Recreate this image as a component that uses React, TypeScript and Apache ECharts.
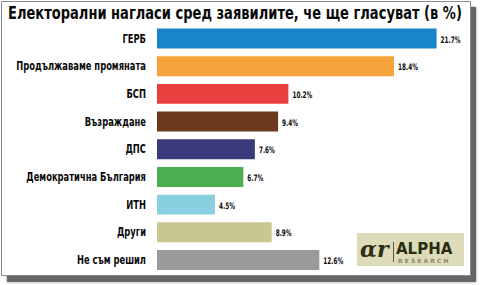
import React, { useEffect, useRef } from "react";
import * as echarts from "echarts";

const categories = [
  "ГЕРБ",
  "Продължаваме промяната",
  "БСП",
  "Възраждане",
  "ДПС",
  "Демократична България",
  "ИТН",
  "Други",
  "Не съм решил",
];
const values = [21.7, 18.4, 10.2, 9.4, 7.6, 6.7, 4.5, 8.9, 12.6];
const colors = [
  "#1a84c9",
  "#f5a33a",
  "#e63f3e",
  "#6b3a1e",
  "#3b3a7c",
  "#4bae50",
  "#88cfe0",
  "#c9c690",
  "#9a9a9a",
];
const titleText = "Електорални нагласи сред заявилите, че ще гласуват (в %)";

const FONT = "'DejaVu Sans', Arial, sans-serif";

function measure(text: string, font: string): number {
  const c = document.createElement("canvas");
  const ctx = c.getContext("2d");
  if (!ctx) return text.length * 8;
  ctx.font = font;
  return ctx.measureText(text).width;
}

export default function App() {
  const ref = useRef<HTMLDivElement>(null);
  useEffect(() => {
    if (!ref.current) return;
    const chart = echarts.init(ref.current, undefined, { renderer: "svg" });

    const titleSize = 18;
    const titleW = measure(titleText, `bold ${titleSize}px ${FONT}`);
    const titleScale = 454 / titleW;

    const labelSize = 11.5;
    const labelW = measure("Продължаваме промяната", `bold ${labelSize}px ${FONT}`);
    const labelScale = 130 / labelW;

    const valSize = 9;
    const valW = measure("21.7%", `bold ${valSize}px ${FONT}`);
    const valScale = 20 / valW;

    chart.setOption({
      animation: false,
      backgroundColor: "#ffffff",
      graphic: [
        {
          type: "rect",
          z: -10,
          shape: { x: 7, y: 7, width: 469, height: 275 },
          style: { fill: "#666666", shadowBlur: 3, shadowColor: "rgba(0,0,0,0.4)" },
          silent: true,
        },
        {
          type: "rect",
          z: -9,
          shape: { x: 1.5, y: 1.5, width: 469, height: 274 },
          style: { fill: "#ffffff", stroke: "#8a8a8a", lineWidth: 1 },
          silent: true,
        },
        {
          type: "text",
          x: 8,
          y: 4,
          scaleX: titleScale,
          style: {
            text: titleText,
            fontFamily: FONT,
            fontWeight: "bold",
            fontSize: titleSize,
            fill: "#0a0a0a",
          },
        },
        {
          type: "group",
          x: 357,
          y: 233,
          children: [
            {
              type: "rect",
              shape: { x: 0, y: 0, width: 107, height: 33 },
              style: { fill: "#dedbb8" },
            },
            {
              type: "text",
              x: 3,
              y: 5,
              style: {
                text: "ɑr",
                fontFamily: "'DejaVu Serif', serif",
                fontWeight: "bold",
                fontStyle: "italic",
                fontSize: 22,
                fill: "#2a2e14",
              },
            },
            {
              type: "rect",
              shape: { x: 36, y: 9, width: 1, height: 20 },
              style: { fill: "#55583a" },
            },
            {
              type: "text",
              x: 39,
              y: 8,
              style: {
                text: "ALPHA",
                fontFamily: "'DejaVu Sans', sans-serif",
                fontWeight: "bold",
                fontSize: 15,
                fill: "#2a2e14",
              },
            },
            {
              type: "text",
              x: 41,
              y: 24,
              style: {
                text: "R E S E A R C H",
                fontFamily: "'DejaVu Sans', sans-serif",
                fontWeight: "bold",
                fontSize: 6,
                fill: "#8a8a6a",
              },
            },
          ],
        },
      ],
      grid: { left: 157, right: 54.6, top: 24.7, bottom: 11.2 },
      xAxis: {
        type: "value",
        min: 0,
        max: 22,
        show: false,
      },
      yAxis: {
        type: "category",
        inverse: true,
        data: categories,
        axisLine: { show: false },
        axisTick: { show: false },
        splitLine: { show: false },
        axisLabel: { show: false },
      },
      series: [
        {
          type: "bar",
          data: values.map((v, i) => ({ value: v, itemStyle: { color: colors[i] } })),
          barCategoryGap: "28%",
        },
        {
          type: "custom",
          silent: true,
          data: categories.map((c, i) => [0, i, values[i]]),
          encode: { x: 0, y: 1 },
          renderItem: (params: any, api: any) => {
            const idx = api.value(1);
            const v = api.value(2);
            const left = api.coord([0, idx]);
            const right = api.coord([v, idx]);
            return {
              type: "group",
              children: [
                {
                  type: "text",
                  x: left[0] - 11,
                  y: left[1],
                  scaleX: labelScale,
                  style: {
                    text: categories[idx],
                    fontFamily: FONT,
                    fontWeight: "bold",
                    fontSize: labelSize,
                    fill: "#0a0a0a",
                    align: "right",
                    verticalAlign: "middle",
                  },
                },
                {
                  type: "text",
                  x: right[0] + 4,
                  y: right[1] + 1,
                  scaleX: valScale,
                  style: {
                    text: v.toFixed(1) + "%",
                    fontFamily: FONT,
                    fontWeight: "bold",
                    fontSize: valSize,
                    fill: "#0a0a0a",
                    align: "left",
                    verticalAlign: "middle",
                  },
                },
              ],
            };
          },
        },
      ],
    });
    return () => chart.dispose();
  }, []);
  return (
    <div
      ref={ref}
      style={{ position: "fixed", left: 0, top: 0, width: 495, height: 285 }}
    />
  );
}
